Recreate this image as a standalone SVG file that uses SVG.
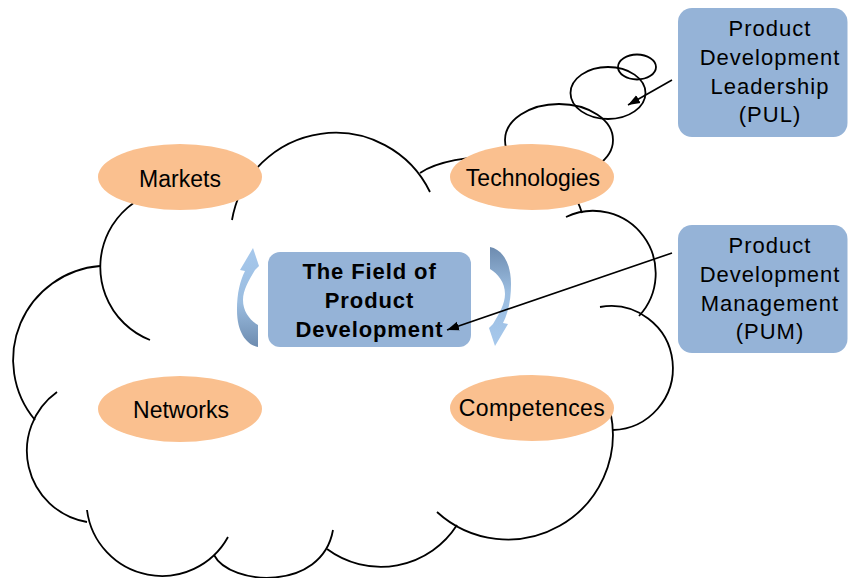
<svg xmlns="http://www.w3.org/2000/svg" width="848" height="578" viewBox="0 0 848 578">
<defs>
<style>
.cloud{fill:none;stroke:#000;stroke-width:1.8}
.bub{fill:none;stroke:#000;stroke-width:1.8}
.ell{fill:#fac08f}
.et{font-family:"Liberation Sans",Arial,sans-serif;font-size:23px;fill:#000;text-anchor:middle}
.box{fill:#95b3d7}
.bt{font-family:"Liberation Sans",Arial,sans-serif;font-size:22px;letter-spacing:1px;fill:#000;text-anchor:middle}
.ft{font-family:"Liberation Sans",Arial,sans-serif;font-size:22px;font-weight:bold;letter-spacing:0.9px;fill:#000;text-anchor:middle}
.conn{fill:none;stroke:#000;stroke-width:1.6;marker-end:url(#ah)}
</style>
<linearGradient id="cg" x1="0" y1="0" x2="0" y2="1">
<stop offset="0" stop-color="#a6c8ec"/>
<stop offset="0.55" stop-color="#9bbde0"/>
<stop offset="1" stop-color="#6d8baf"/>
</linearGradient>
<marker id="ah" markerUnits="userSpaceOnUse" markerWidth="13" markerHeight="10" refX="12" refY="5" orient="auto">
<path d="M0,0.5 L12,5 L0,9.5 Z" fill="#000"/>
</marker>
<path id="carrow" d="M258,347 C247,345 237,333 237,310 C237,293 240,281 245,271 L240,270 L253,248 L259,266 L255,270 C249,280 243,290 243,300 C243,312 250,320 258,325 Z"/>
</defs>
<rect width="848" height="578" fill="#fff"/>
<g id="cloud">
<path class="cloud" d="M150,340 A78.4,78.4 0 1 1 220,200.4"/>
<path class="cloud" d="M100,266 A94,94 0 0 0 35,420"/>
<path class="cloud" d="M57,392 A72.3,72.3 0 0 0 87,522"/>
<path class="cloud" d="M87,510 A75.5,75.5 0 0 0 228,537"/>
<path class="cloud" d="M214,555 C230,586 322,592 333,530"/>
<path class="cloud" d="M327,549 A90.3,90.3 0 0 0 457,525"/>
<path class="cloud" d="M610.7,413.3 A105,105 0 0 1 437,512"/>
<path class="cloud" d="M600,307 A62,62 0 1 1 613,430"/>
<path class="cloud" d="M566,217 A62.6,62.6 0 0 1 639,316"/>
<path class="cloud" d="M420,173 C450,152 560,140 582,213"/>
<path class="cloud" d="M232,220 A105,105 0 0 1 430,192"/>
</g>
<g id="bubbles">
<ellipse class="bub" cx="559" cy="140" rx="54" ry="36"/>
<ellipse class="bub" cx="608" cy="93" rx="37.5" ry="26"/>
<ellipse class="bub" cx="637" cy="67" rx="19" ry="12.5"/>
</g>
<g id="markets"><ellipse class="ell" cx="180" cy="177" rx="82" ry="33"/><text class="et" x="180" y="187">Markets</text></g>
<g id="technologies"><ellipse class="ell" cx="532" cy="177" rx="82" ry="33"/><text class="et" x="533" y="186">Technologies</text></g>
<g id="networks"><ellipse class="ell" cx="180" cy="409" rx="82" ry="33"/><text class="et" x="181" y="418">Networks</text></g>
<g id="competences"><ellipse class="ell" cx="532" cy="408" rx="82" ry="33"/><text class="et" x="532" y="416" style="letter-spacing:0.4px">Competences</text></g>
<g id="cycle-arrows">
<use href="#carrow" fill="url(#cg)"/>
<use href="#carrow" fill="url(#cg)" transform="rotate(180 374 297)"/>
</g>
<g id="field">
<rect class="box" x="268" y="252" width="203" height="95" rx="12"/>
<text class="ft" x="369.5" y="279">The Field of</text>
<text class="ft" x="369.5" y="308">Product</text>
<text class="ft" x="369.5" y="337">Development</text>
</g>
<g id="pul">
<rect class="box" x="678" y="8" width="169.5" height="129" rx="14"/>
<text class="bt" x="770" y="36">Product</text>
<text class="bt" x="770" y="65">Development</text>
<text class="bt" x="770" y="94">Leadership</text>
<text class="bt" x="770" y="122">(PUL)</text>
</g>
<g id="pum">
<rect class="box" x="678" y="225" width="169.5" height="128" rx="14"/>
<text class="bt" x="770" y="253">Product</text>
<text class="bt" x="770" y="282">Development</text>
<text class="bt" x="770" y="310.5">Management</text>
<text class="bt" x="770" y="339">(PUM)</text>
</g>
<g id="connectors">
<path class="conn" d="M672,80 L628,105"/>
<path class="conn" d="M672,253 L447,330"/>
</g>
</svg>
